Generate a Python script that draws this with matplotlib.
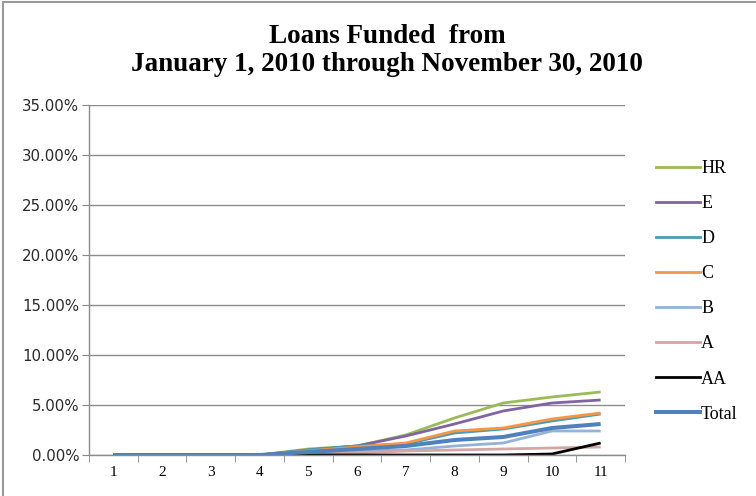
import matplotlib
matplotlib.use("Agg")
import matplotlib.pyplot as plt
from matplotlib.lines import Line2D
import numpy as np

months = [1, 2, 3, 4, 5, 6, 7, 8, 9, 10, 11]
series_names = ["HR", "E", "D", "C", "B", "A", "AA", "Total"]
hr    = [0, 0, 0, 0, 0.6, 0.9, 2.0, 3.7, 5.2, 5.8, 6.3]
e     = [0, 0, 0, 0, 0.5, 0.9, 1.9, 3.1, 4.4, 5.2, 5.5]
d     = [0, 0, 0, 0, 0.5, 0.9, 1.1, 2.2, 2.6, 3.4, 4.1]
c     = [0, 0, 0, 0, 0.4, 0.8, 1.2, 2.4, 2.7, 3.6, 4.2]
b     = [0, 0, 0, 0, 0.3, 0.4, 0.5, 0.9, 1.2, 2.4, 2.4]
a     = [0, 0, 0, 0, 0.1, 0.2, 0.4, 0.5, 0.6, 0.7, 0.8]
aa    = [0, 0, 0, 0, 0.0, 0.0, 0.0, 0.0, 0.0, 0.1, 1.2]
total = [0, 0, 0, 0, 0.3, 0.6, 0.9, 1.5, 1.8, 2.7, 3.1]
values = [hr, e, d, c, b, a, aa, total]
colors = ["#9BBB59", "#8064A2", "#4A9DB0", "#F79646", "#95B3D7", "#D4A5A5", "#000000", "#4F81BD"]
widths = [2.0, 2.0, 2.0, 2.0, 2.0, 2.0, 2.0, 2.9]
yticks = [0, 5, 10, 15, 20, 25, 30, 35]

fig = plt.figure(figsize=(7.56, 4.96), dpi=100)
ax = fig.add_axes([89/756, 1 - 455/496, (625-89)/756, (455-105)/496])

for name, vals, col, lw in zip(series_names, values, colors, widths):
    ax.plot(months, vals, color=col, lw=lw, label=name, solid_capstyle="butt")

ax.set_xlim(0.5, 11.5)
ax.set_ylim(0, 35)
ax.set_yticks(yticks)
ax.set_yticklabels([f"{v:.2f}%" for v in yticks], family="DejaVu Sans", fontsize=10.8, color="#2a2a2a")
ax.set_xticks(months)
ax.set_xticklabels([str(m) for m in months], family="Liberation Serif", fontsize=11)
ax.set_xticks(np.arange(0.5, 12, 1), minor=True)
ax.tick_params(axis="x", which="major", length=0, pad=8)
ax.tick_params(axis="x", which="minor", length=5, color="#888888", direction="out")
ax.tick_params(axis="y", length=5, color="#888888", direction="out", pad=2)
ax.grid(axis="y", color="#8c8c8c", lw=1.0)
ax.set_axisbelow(True)
for s in ["top", "right"]:
    ax.spines[s].set_visible(False)
for s in ["left", "bottom"]:
    ax.spines[s].set_color("#8c8c8c")
    ax.spines[s].set_linewidth(1.0)

fig.text(387/756, 1 - 43/496, "Loans Funded  from", ha="center", va="baseline",
         family="Liberation Serif", fontweight="bold", fontsize=19.5)
fig.text(387/756, 1 - 71/496, "January 1, 2010 through November 30, 2010", ha="center", va="baseline",
         family="Liberation Serif", fontweight="bold", fontsize=19.5)

handles = [Line2D([0], [0], color=c_, lw=lw) for c_, lw in zip(colors, widths)]
leg = fig.legend(handles, series_names, loc="upper left", bbox_to_anchor=(649/756, 1 - 153/496),
                 frameon=False, prop={"family": "Liberation Serif", "size": 13},
                 handlelength=2.44, handletextpad=0.05, labelspacing=1.0, borderaxespad=0)

fig.add_artist(Line2D([3/756, 1], [1 - 2/496, 1 - 2/496], color="#999999", lw=1.5, transform=fig.transFigure))
fig.add_artist(Line2D([3/756, 3/756], [0, 1 - 2/496], color="#999999", lw=1.5, transform=fig.transFigure))

fig.savefig("out.png", dpi=100)
